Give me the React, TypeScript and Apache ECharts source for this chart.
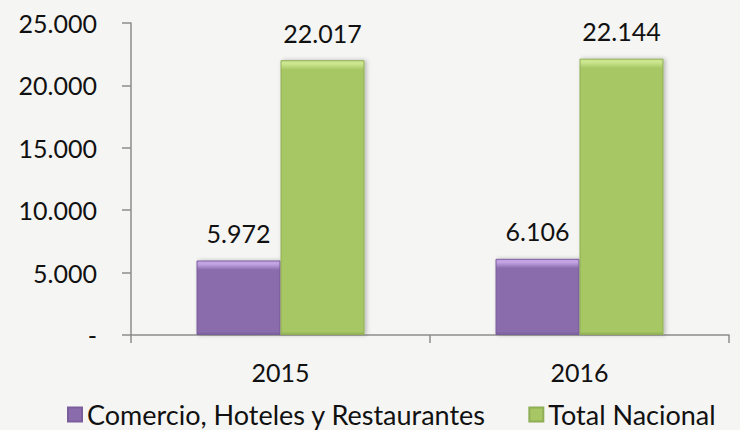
import React, { useEffect, useRef } from "react";
import * as echarts from "echarts";

const categories = ["2015", "2016"];
const seriesNames = ["Comercio, Hoteles y Restaurantes", "Total Nacional"];
const comercio = [5972, 6106];
const totalNacional = [22017, 22144];
const yTicks = { min: 0, max: 25000, interval: 5000 };

const fmt = (v: number) =>
  v === 0 ? "-" : String(Math.round(v)).replace(/\B(?=(\d{3})+(?!\d))/g, ".");

const FONT = "Lato";
const PLOT_H = 312;

function vGrad(value: number, top: string, mid: string, bottom: string) {
  const h = (value / yTicks.max) * PLOT_H;
  const band = Math.min(0.4, 9 / h);
  const bb = Math.min(0.3, 3 / h);
  return new echarts.graphic.LinearGradient(0, 0, 0, 1, [
    { offset: 0, color: top },
    { offset: band * 0.35, color: top },
    { offset: band, color: mid },
    { offset: 1 - bb, color: mid },
    { offset: 1, color: bottom },
  ]);
}

export default function App() {
  const ref = useRef<HTMLDivElement>(null);
  useEffect(() => {
    if (!ref.current) return;
    const chart = echarts.init(ref.current, null, { renderer: "svg" });
    const purple = "#8a6cad";
    const green = "#a6c764";
    const labelStyle = {
      show: true,
      position: "top" as const,
      distance: 15,
      fontFamily: FONT,
      fontSize: 25,
      color: "#111",
      formatter: (p: any) => fmt(p.value),
    };
    const mkData = (vals: number[], top: string, mid: string, bottom: string) =>
      vals.map((v) => ({ value: v, itemStyle: { color: vGrad(v, top, mid, bottom) } }));
    chart.setOption({
      animation: false,
      backgroundColor: "#f5f5f3",
      grid: { left: 131, right: 11, top: 23, bottom: 95 },
      legend: {
        left: 62,
        top: 396,
        itemWidth: 14,
        itemHeight: 14,
        itemGap: 42,
        icon: "rect",
        textStyle: { fontFamily: FONT, fontSize: 27, color: "#111" },
        data: [
          { name: seriesNames[0], itemStyle: { color: purple } },
          { name: seriesNames[1], itemStyle: { color: green } },
        ],
      },
      xAxis: {
        type: "category",
        data: categories,
        boundaryGap: true,
        axisLine: { lineStyle: { color: "#8c8c8c", width: 1.5 } },
        axisTick: { show: true, length: 8, lineStyle: { color: "#8c8c8c", width: 1.5 } },
        axisLabel: { margin: 24, fontFamily: FONT, fontSize: 25, color: "#111" },
      },
      yAxis: {
        type: "value",
        min: yTicks.min,
        max: yTicks.max,
        interval: yTicks.interval,
        axisLine: { show: true, lineStyle: { color: "#8c8c8c", width: 1.5 } },
        axisTick: { show: true, length: 9, lineStyle: { color: "#8c8c8c", width: 1.5 } },
        splitLine: { show: false },
        axisLabel: {
          margin: 34,
          fontFamily: FONT,
          fontSize: 25,
          color: "#111",
          formatter: (v: number) => fmt(v),
        },
      },
      series: [
        {
          name: seriesNames[0],
          type: "bar",
          data: mkData(comercio, "#c3a3e4", purple, "#7a5e9c"),
          barWidth: 84,
          barGap: "0%",
          itemStyle: {
            color: purple,
            borderColor: "#7a5e9c",
            borderWidth: 1,
            shadowColor: "rgba(0,0,0,0.25)",
            shadowBlur: 4,
            shadowOffsetX: 2,
          },
          label: labelStyle,
        },
        {
          name: seriesNames[1],
          type: "bar",
          data: mkData(totalNacional, "#cbe68f", green, "#8fae55"),
          barWidth: 84,
          barGap: "0%",
          itemStyle: {
            color: green,
            borderColor: "#8fae55",
            borderWidth: 1,
            shadowColor: "rgba(0,0,0,0.25)",
            shadowBlur: 4,
            shadowOffsetX: 2,
          },
          label: labelStyle,
        },
      ],
    });
    return () => chart.dispose();
  }, []);
  return <div ref={ref} style={{ width: 740, height: 430, position: "fixed", left: 0, top: 0 }} />;
}
